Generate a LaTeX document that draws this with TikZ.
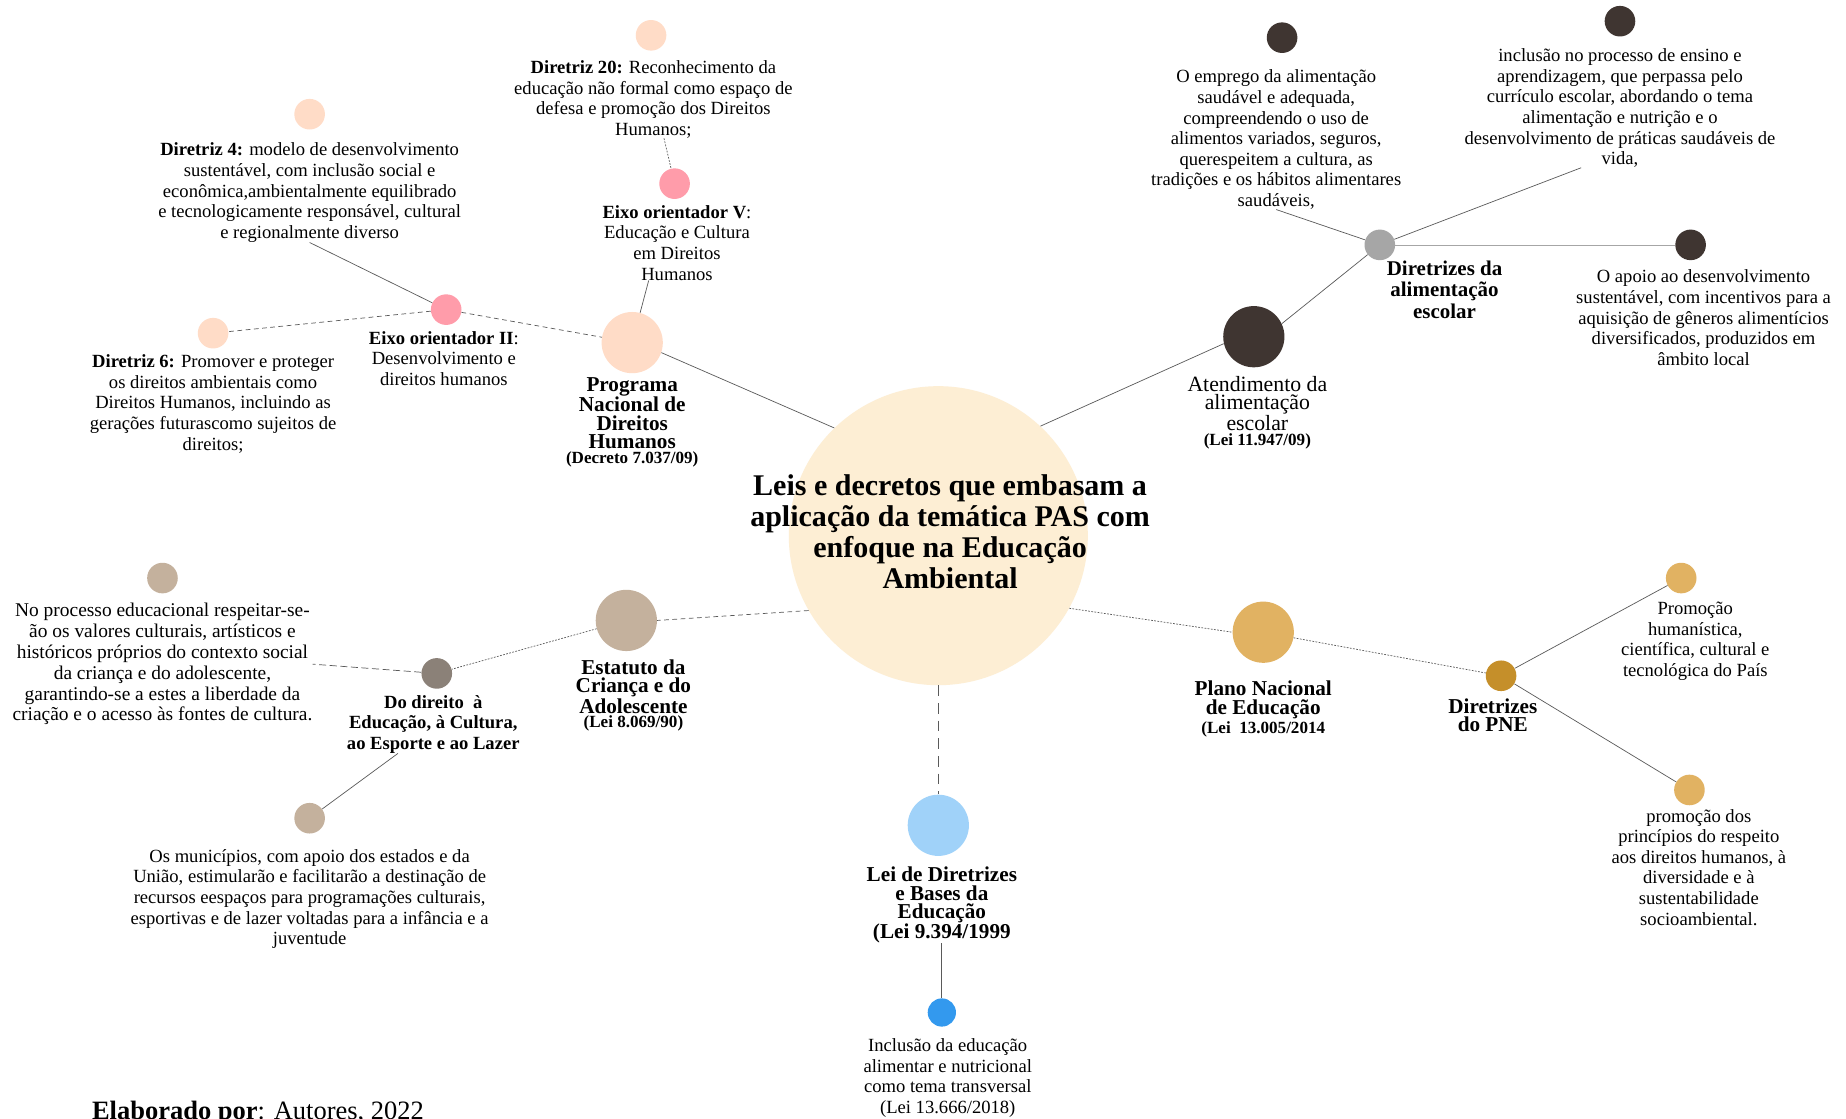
\documentclass[tikz,border=0pt]{standalone}
\usepackage{fontspec}
\setmainfont{Liberation Serif}
\usetikzlibrary{positioning}

\definecolor{creme}{HTML}{FDEED4}
\definecolor{pessego}{HTML}{FFDCC7}
\definecolor{rosa}{HTML}{FF9CAA}
\definecolor{marrom}{HTML}{3F3531}
\definecolor{cinza}{HTML}{A6A6A6}
\definecolor{areia}{HTML}{C4B19D}
\definecolor{pardo}{HTML}{8B8178}
\definecolor{celeste}{HTML}{A0D2F9}
\definecolor{azul}{HTML}{3399EE}
\definecolor{ouro}{HTML}{E1B262}
\definecolor{ourovelho}{HTML}{C58F2A}
\definecolor{linha}{HTML}{5A5A5A}

\newcommand{\fcorpo}{\fontsize{15.8}{17.5}\selectfont}
\newcommand{\ftitulo}{\fontsize{18}{15.6}\selectfont\bfseries}
\newcommand{\flei}{\fontsize{14.5}{14}\selectfont\bfseries}

\begin{document}
\begin{tikzpicture}[x=1pt, y=-1pt,
  bola/.style={circle, inner sep=0pt, minimum size=26pt},
  bolao/.style={circle, inner sep=0pt, minimum size=52pt},
  txt/.style={align=center, inner sep=0pt, font=\fcorpo},
  tit/.style={align=center, inner sep=0pt, font=\ftitulo},
  lei/.style={inner sep=0pt, font=\flei},
  lig/.style={draw=linha, line width=0.6pt},
  trac/.style={lig, dash pattern=on 4pt off 3pt},
  pont/.style={lig, dash pattern=on 1.5pt off 1.2pt}
]
  \fill[white] (0,0) rectangle (1568,950);
  \useasboundingbox (0,0) rectangle (1568,950);

  % centro
  \node[circle, fill=creme, minimum size=254pt, inner sep=0pt] (main) at (797,455) {};
  \node[align=center, font=\fontsize{25.5}{26.3}\selectfont\bfseries] (maintxt) at (807,452)
    {Leis e decretos que embasam a\\aplicação da temática PAS com\\enfoque na Educação\\Ambiental};

  % Programa Nacional de Direitos Humanos
  \node[bolao, fill=pessego] (prog) at (537,291) {};
  \node[tit, below=3pt of prog] (progtxt) {Programa\\Nacional de\\Direitos\\Humanos};
  \node[lei, below=2pt of progtxt] (progdec) {(Decreto 7.037/09)};

  \node[bola, fill=rosa] (eixo2) at (379,263) {};
  \node[txt, below=5pt of eixo2, xshift=-2pt] (eixo2txt)
    {\textbf{Eixo orientador II}:\\Desenvolvimento e\\direitos humanos};

  \node[bola, fill=pessego] (d4) at (263,97) {};
  \node[txt, below=11pt of d4] (d4txt)
    {\textbf{Diretriz 4:} modelo de desenvolvimento\\sustentável, com inclusão social e\\econômica,ambientalmente equilibrado\\e tecnologicamente responsável, cultural\\e regionalmente diverso};

  \node[bola, fill=pessego] (d6) at (181,283) {};
  \node[txt, below=5pt of d6] (d6txt)
    {\textbf{Diretriz 6:} Promover e proteger\\os direitos ambientais como\\Direitos Humanos, incluindo as\\gerações futurascomo sujeitos de\\direitos;};

  \node[bola, fill=pessego] (d20) at (553,30) {};
  \node[txt, below=8pt of d20, xshift=2pt] (d20txt)
    {\textbf{Diretriz 20:} Reconhecimento da\\educação não formal como espaço de\\defesa e promoção dos Direitos\\Humanos;};

  \node[bola, fill=rosa] (eixo5) at (573,156) {};
  \node[txt, below=5pt of eixo5, xshift=2pt] (eixo5txt)
    {\textbf{Eixo orientador V}:\\Educação e Cultura\\em Direitos\\Humanos};

  % alimentacao escolar
  \node[bolao, fill=marrom] (atend) at (1065,286) {};
  \node[align=center, inner sep=0pt, font=\fontsize{18.5}{15.6}\selectfont,
        below=7pt of atend, xshift=3pt] (atendtxt) {Atendimento da\\alimentação\\escolar};
  \node[lei, below=2pt of atendtxt] (atendlei) {(Lei 11.947/09)};

  \node[bola, fill=cinza] (da) at (1172,208) {};
  \node[align=center, inner sep=0pt, font=\fontsize{17.8}{18}\selectfont\bfseries,
        below=0.5pt of da, xshift=55pt] (datxt) {Diretrizes da\\alimentação\\escolar};

  \node[bola, fill=marrom] (emp) at (1089,32) {};
  \node[txt, below=14pt of emp, xshift=-5pt] (emptxt)
    {O emprego da alimentação\\saudável e adequada,\\compreendendo o uso de\\alimentos variados, seguros,\\querespeitem a cultura, as\\tradições e os hábitos alimentares\\saudáveis,};

  \node[bola, fill=marrom] (incl) at (1376,18) {};
  \node[txt, below=10pt of incl] (incltxt)
    {inclusão no processo de ensino e\\aprendizagem, que perpassa pelo\\currículo escolar, abordando o tema\\alimentação e nutrição e o\\desenvolvimento de práticas saudáveis de\\vida,};

  \node[bola, fill=marrom] (apoio) at (1436,208) {};
  \node[txt, below=8pt of apoio, xshift=11pt] (apoiotxt)
    {O apoio ao desenvolvimento\\sustentável, com incentivos para a\\aquisição de gêneros alimentícios\\diversificados, produzidos em\\âmbito local};

  % Estatuto da Crianca e do Adolescente
  \node[bolao, fill=areia] (est) at (532,527) {};
  \node[tit, below=7pt of est, xshift=6pt] (esttxt) {Estatuto da\\Criança e do\\Adolescente};
  \node[lei, below=2pt of esttxt] (estlei) {(Lei 8.069/90)};

  \node[bola, fill=pardo] (dd) at (371,572) {};
  \node[txt, font=\fcorpo\bfseries, below=5pt of dd, xshift=-3pt] (ddtxt)
    {Do direito~ à\\Educação, à Cultura,\\ao Esporte e ao Lazer};

  \node[bola, fill=areia] (np) at (138,491) {};
  \node[txt, font=\fontsize{16.5}{17.7}\selectfont, below=8pt of np] (nptxt)
    {No processo educacional respeitar-se-\\ão os valores culturais, artísticos e\\históricos próprios do contexto social\\da criança e do adolescente,\\garantindo-se a estes a liberdade da\\criação e o acesso às fontes de cultura.};

  \node[bola, fill=areia] (mun) at (263,695) {};
  \node[txt, below=13pt of mun] (muntxt)
    {Os municípios, com apoio dos estados e da\\União, estimularão e facilitarão a destinação de\\recursos eespaços para programações culturais,\\esportivas e de lazer voltadas para a infância e a\\juventude};

  % LDB
  \node[bolao, fill=celeste] (ldb) at (797,701) {};
  \node[tit, below=9pt of ldb, xshift=3pt] (ldbtxt)
    {Lei de Diretrizes\\e Bases da\\Educação\\(Lei 9.394/1999};

  \node[circle, inner sep=0pt, minimum size=24pt, fill=azul] (ldbinc) at (800,860) {};
  \node[txt, below=10pt of ldbinc, xshift=5pt] (ldbinctxt)
    {Inclusão da educação\\alimentar e nutricional\\como tema transversal\\(Lei 13.666/2018)};

  % PNE
  \node[bolao, fill=ouro] (pne) at (1073,537) {};
  \node[tit, below=15pt of pne] (pnetxt) {Plano Nacional\\de Educação};
  \node[lei, below=2pt of pnetxt] (pnelei) {(Lei~ 13.005/2014};

  \node[bola, fill=ourovelho] (dpne) at (1275,574) {};
  \node[tit, below=6pt of dpne, xshift=-7pt] (dpnetxt) {Diretrizes\\do PNE};

  \node[bola, fill=ouro] (prom1) at (1428,491) {};
  \node[txt, below=7pt of prom1, xshift=12pt] (prom1txt)
    {Promoção\\humanística,\\científica, cultural e\\tecnológica do País};

  \node[bola, fill=ouro] (prom2) at (1435,671) {};
  \node[txt, below=3pt of prom2, xshift=8pt] (prom2txt)
    {promoção dos\\princípios do respeito\\aos direitos humanos, à\\diversidade e à\\sustentabilidade\\socioambiental.};

  \node[anchor=base west, inner sep=0pt, font=\fontsize{22.5}{26}\selectfont] (fonte) at (78,951)
    {\textbf{Elaborado por}: Autores, 2022};

  % ligacoes
  \draw[lig] (prog.-19) -- (main.134);
  \draw[trac] (eixo2) -- (prog);
  \draw[trac] (eixo2) -- (d6);
  \draw[lig] (eixo2) -- (d4txt.south);
  \draw[lig] ([xshift=-24pt]eixo5txt.south) -- (prog);
  \draw[pont] ([xshift=9pt]d20txt.south) -- (eixo5);

  \draw[lig] (main.47) -- (atend.193);
  \draw[lig] (atend.25) -- (da);
  \draw[lig] (da) -- (emptxt.south);
  \draw[lig] (da) -- ([xshift=-33pt]incltxt.south);
  \draw[lig, draw=cinza] (da) -- (apoio);

  \draw[trac] (main.210) -- (est.east);
  \draw[pont] (est) -- (dd);
  \draw[lig, dash pattern=on 6pt off 3pt] (dd) -- (nptxt.east);
  \draw[lig] ([xshift=-30pt]ddtxt.south) -- (mun);

  \draw[lig, dash pattern=on 9pt off 6pt] (main.south) -- (ldb);
  \draw[lig] (ldbtxt.south) -- (ldbinc);

  \draw[pont] (main.-29) -- (pne.west);
  \draw[pont] (pne) -- (dpne);
  \draw[lig] (dpne) -- (prom1);
  \draw[lig] (dpne) -- (prom2);
\end{tikzpicture}
\end{document}
